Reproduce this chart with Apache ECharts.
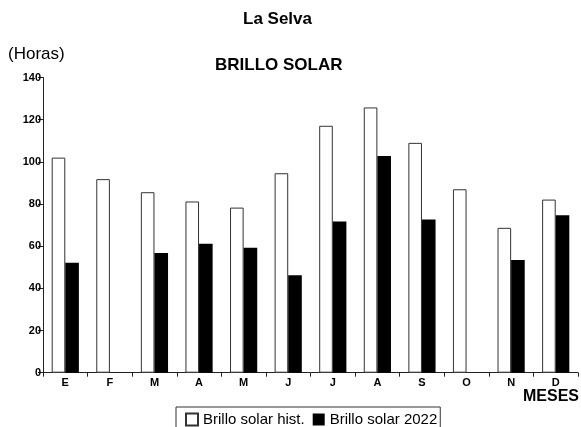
<!DOCTYPE html>
<html>
<head>
<meta charset="utf-8">
<script src="https://cdn.jsdelivr.net/npm/echarts@6/dist/echarts.min.js"></script>
<style>
  html, body { margin: 0; padding: 0; background: #fff; }
  #chart { width: 581px; height: 427px; }
</style>
</head>
<body>
<div id="chart"></div>
<script>
// 月份（西语首字母）
var meses = ['E', 'F', 'M', 'A', 'M', 'J', 'J', 'A', 'S', 'O', 'N', 'D'];
// 历史日照时数
var brilloHist = [102, 91.8, 85.6, 81.2, 78.3, 94.6, 117.1, 125.8, 109, 87, 68.7, 82.1];
// 2022 日照时数（F、O 无数据）
var brillo2022 = [52.1, null, 56.8, 61.1, 59.2, 46.2, 71.7, 102.8, 72.6, null, 53.5, 74.7];
var yTicks = { min: 0, max: 140, interval: 20 };

var FONT = 'Liberation Sans, Arial, sans-serif';
var chart = echarts.init(document.getElementById('chart'));

var option = {
  backgroundColor: '#fff',
  animation: false,
  title: [
    { text: 'La Selva', left: 243, top: 11, padding: 0,
      textStyle: { fontFamily: FONT, fontSize: 17, fontWeight: 'bold', color: '#000' } },
    { text: 'BRILLO SOLAR', left: 215, top: 57, padding: 0,
      textStyle: { fontFamily: FONT, fontSize: 17, fontWeight: 'bold', color: '#000' } },
    { text: '(Horas)', left: 8, top: 46, padding: 0,
      textStyle: { fontFamily: FONT, fontSize: 17, fontWeight: 'normal', color: '#000' } },
    { text: 'MESES', left: 523, top: 389, padding: 0,
      textStyle: { fontFamily: FONT, fontSize: 16, fontWeight: 'bold', color: '#000' } }
  ],
  legend: {
    left: 176,
    top: 407,
    padding: [5, 3, 8, 9],
    borderColor: '#333',
    borderWidth: 1,
    itemWidth: 12,
    itemHeight: 12,
    itemGap: 8,
    itemTextGap: 2,
    icon: 'rect',
    textStyle: { fontFamily: FONT, fontSize: 15, color: '#000' },
    data: ['Brillo solar hist.', 'Brillo solar 2022']
  },
  grid: { left: 43, right: 3, top: 77.5, bottom: 54.3, containLabel: false },
  xAxis: {
    type: 'category',
    data: meses,
    boundaryGap: true,
    axisLine: { lineStyle: { color: '#222', width: 1 } },
    axisTick: { show: true, length: 4, alignWithLabel: false, lineStyle: { color: '#222' } },
    axisLabel: { margin: 5, fontFamily: FONT, fontSize: 11, fontWeight: 'bold', color: '#000', interval: 0 },
    splitLine: { show: false }
  },
  yAxis: {
    type: 'value',
    min: yTicks.min,
    max: yTicks.max,
    interval: yTicks.interval,
    axisLine: { show: true, lineStyle: { color: '#222', width: 1 } },
    axisTick: { show: true, length: 5, lineStyle: { color: '#222' } },
    axisLabel: { margin: 2, fontFamily: FONT, fontSize: 11, fontWeight: 'bold', color: '#000' },
    splitLine: { show: false }
  },
  series: [
    {
      name: 'Brillo solar hist.',
      type: 'bar',
      data: brilloHist,
      barGap: '0%',
      barCategoryGap: '39%',
      itemStyle: { color: '#fff', borderColor: '#333', borderWidth: 1 }
    },
    {
      name: 'Brillo solar 2022',
      type: 'bar',
      data: brillo2022,
      itemStyle: { color: '#000', borderColor: '#000', borderWidth: 0 }
    }
  ]
};

chart.setOption(option);
</script>
</body>
</html>
